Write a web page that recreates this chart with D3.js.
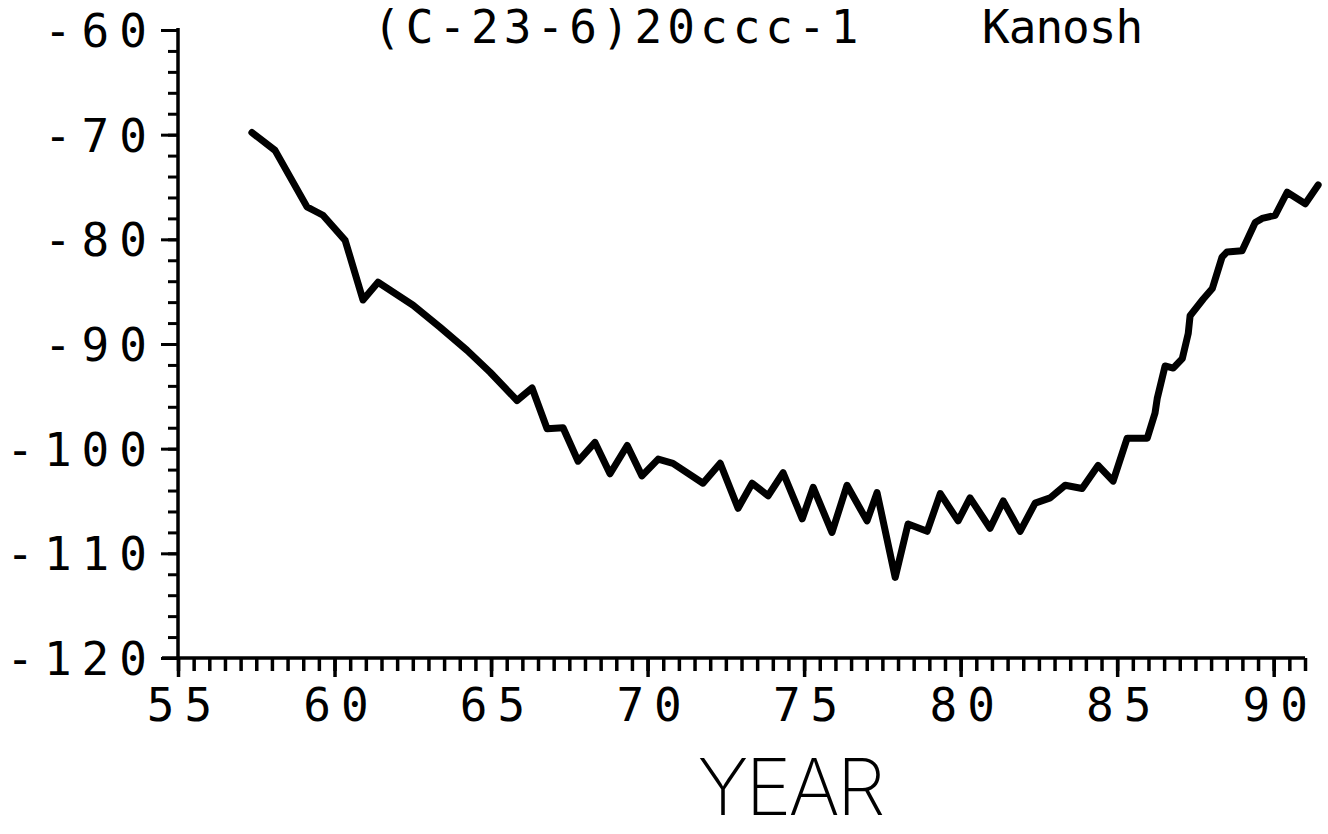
<!DOCTYPE html>
<html><head><meta charset="utf-8">
<script src="https://cdn.jsdelivr.net/npm/d3@7/dist/d3.min.js"></script>
<style>body{margin:0;background:#fff}svg{display:block}</style>
</head><body><svg id="c" width="1328" height="834"></svg>
<script>
const years = [57.36,58.10,59.12,59.31,59.63,60.34,60.91,61.39,62.51,63.37,64.23,64.97,65.83,66.31,66.79,67.30,67.78,68.32,68.80,69.35,69.82,70.34,70.81,71.77,72.32,72.89,73.34,73.85,74.33,74.94,75.29,75.89,76.37,77.01,77.33,77.91,78.32,78.93,79.35,79.92,80.30,80.94,81.36,81.90,82.38,82.86,83.34,83.88,84.39,84.87,85.32,85.96,86.21,86.28,86.53,86.79,87.08,87.27,87.33,87.75,88.04,88.35,88.51,88.99,89.41,89.63,90.05,90.43,91.01,91.42];
const levels = [-69.8,-71.5,-76.9,-77.2,-77.7,-80.1,-85.8,-84.1,-86.3,-88.4,-90.6,-92.7,-95.4,-94.2,-98.1,-98.0,-101.2,-99.4,-102.4,-99.7,-102.6,-101.0,-101.4,-103.3,-101.4,-105.7,-103.3,-104.5,-102.3,-106.7,-103.7,-108.0,-103.5,-106.9,-104.2,-112.3,-107.2,-107.9,-104.3,-106.9,-104.7,-107.6,-105.0,-107.9,-105.2,-104.7,-103.5,-103.8,-101.6,-103.1,-99.0,-99.0,-96.6,-95.2,-92.1,-92.3,-91.4,-89.0,-87.3,-85.7,-84.7,-81.7,-81.2,-81.1,-78.4,-78.0,-77.7,-75.5,-76.6,-74.8];
const yMajorTicks = [-120,-110,-100,-90,-80,-70,-60];
const xMajorTicks = [55,60,65,70,75,80,85,90];
const titleLeft = "(C-23-6)20ccc-1";
const titleRight = "Kanosh";
const xAxisTitle = "YEAR";

const svg = d3.select("#c");
const x = d3.scaleLinear().domain([55, 91]).range([178, 1305]);
const y = d3.scaleLinear().domain([-120, -60]).range([658, 30]);
const FONT = "'DejaVu Sans Mono', monospace";

// minor ticks
svg.append("g").attr("transform", `translate(${x(55)},0)`)
  .call(d3.axisLeft(y).tickValues(d3.range(-120, -59, 2)).tickSize(10).tickSizeOuter(0).tickFormat(""))
  .call(g => g.selectAll("line").attr("stroke", "#000").attr("stroke-width", 3))
  .call(g => g.select(".domain").remove());
svg.append("g").attr("transform", `translate(0,${y(-120)})`)
  .call(d3.axisBottom(x).tickValues(d3.range(55, 91.01, 0.5)).tickSize(13).tickSizeOuter(0).tickFormat(""))
  .call(g => g.selectAll("line").attr("stroke", "#000").attr("stroke-width", 3.5))
  .call(g => g.select(".domain").remove());

// major y
const gy = svg.append("g").attr("transform", `translate(${x(55)},0)`)
  .call(d3.axisLeft(y).tickValues(yMajorTicks).tickSize(17).tickSizeOuter(0).tickPadding(14).tickFormat(d => d));
gy.selectAll("line").attr("stroke", "#000").attr("stroke-width", 3);
gy.select(".domain").attr("stroke", "#000").attr("stroke-width", 3.5).attr("d", `M0,${y(-120)}V${y(-60)-2}`);
gy.selectAll("text").attr("font-family", FONT).attr("font-size", 46).attr("fill", "#000")
  .attr("letter-spacing", 10).attr("dx", 10).attr("dy", "0.36em");

// major x
const gx = svg.append("g").attr("transform", `translate(0,${y(-120)})`)
  .call(d3.axisBottom(x).tickValues(xMajorTicks).tickSize(19).tickSizeOuter(0).tickPadding(9).tickFormat(d => d));
gx.selectAll("line").attr("stroke", "#000").attr("stroke-width", 3.5);
gx.select(".domain").attr("stroke", "#000").attr("stroke-width", 3.5).attr("d", `M${x(55)-16},0H${x(91)}`);
gx.selectAll("text").attr("font-family", FONT).attr("font-size", 46).attr("fill", "#000")
  .attr("letter-spacing", 10).attr("dx", 6).attr("dy", "0.75em");

// line
const line = d3.line().x((d, i) => x(years[i])).y(d => y(d));
svg.append("path").datum(levels).attr("d", line).attr("fill", "none")
  .attr("stroke", "#000").attr("stroke-width", 7).attr("stroke-linejoin", "round").attr("stroke-linecap", "round");

// title
const t = svg.append("text").attr("y", 43).attr("font-family", FONT).attr("font-size", 46).attr("fill", "#000");
t.append("tspan").attr("x", 373).attr("letter-spacing", 5).text(titleLeft);
t.append("tspan").attr("x", 982).attr("letter-spacing", -1).text(titleRight);

// x axis title
svg.append("text").attr("x", 790).attr("y", 815).attr("text-anchor", "middle")
  .attr("font-family", "Inter, sans-serif").attr("font-weight", 200).attr("font-size", 78)
  .attr("letter-spacing", -3).attr("fill", "#000").text(xAxisTitle);
</script>
</body></html>
